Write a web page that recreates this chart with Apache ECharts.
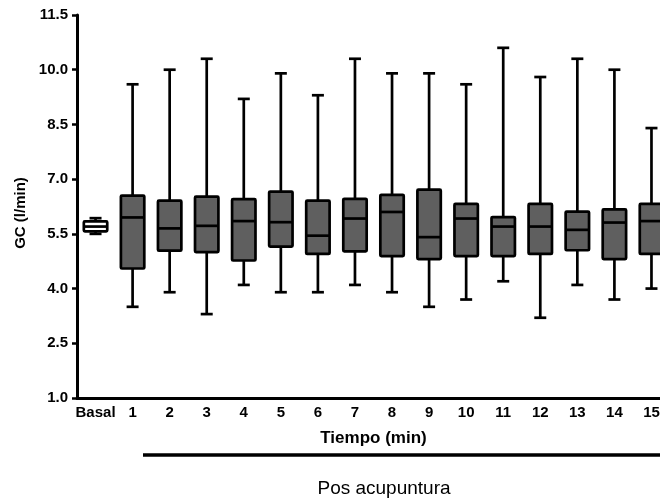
<!DOCTYPE html>
<html>
<head>
<meta charset="utf-8">
<script src="https://cdn.jsdelivr.net/npm/echarts@6/dist/echarts.min.js"></script>
<style>
  html, body { margin: 0; padding: 0; background: #fff; }
  #chart { width: 660px; height: 504px; }
</style>
</head>
<body>
<div id="chart"></div>
<script>
// categorías (Basal + minutos pos acupuntura)
const categories = ['Basal', '1', '2', '3', '4', '5', '6', '7', '8', '9', '10', '11', '12', '13', '14', '15'];

// valores (GC, l/min)
const mins    = [5.50, 3.5, 3.9, 3.3, 4.1, 3.9, 3.9, 4.1, 3.9, 3.5, 3.7, 4.2, 3.2, 4.1, 3.7, 4.0];
const q1s     = [5.57, 4.55, 5.04, 5.00, 4.77, 5.15, 4.95, 5.02, 4.89, 4.81, 4.89, 4.89, 4.95, 5.05, 4.81, 4.95];
const medians = [5.70, 5.95, 5.65, 5.72, 5.85, 5.82, 5.45, 5.92, 6.10, 5.41, 5.92, 5.70, 5.70, 5.61, 5.81, 5.85];
const q3s     = [5.84, 6.55, 6.41, 6.52, 6.45, 6.66, 6.41, 6.46, 6.57, 6.71, 6.32, 5.96, 6.32, 6.11, 6.17, 6.32];
const maxs    = [5.93, 9.6, 10.0, 10.3, 9.2, 9.9, 9.3, 10.3, 9.9, 9.9, 9.6, 10.6, 9.8, 10.3, 10.0, 8.4];

const yTicks = [1.0, 2.5, 4.0, 5.5, 7.0, 8.5, 10.0, 11.5];

const FONT = '"Liberation Sans", Arial, sans-serif';
const BOX_FILL = '#5f5f5f';
const LINE_W = 2.7;

const boxData = categories.map((c, i) => [i, mins[i], q1s[i], medians[i], q3s[i], maxs[i]]);

// dibuja una caja con bigotes (tapas más cortas que la caja)
function renderBox (params, api) {
  const i = api.value(0);
  const pMin = api.coord([i, api.value(1)]);
  const pQ1 = api.coord([i, api.value(2)]);
  const pMed = api.coord([i, api.value(3)]);
  const pQ3 = api.coord([i, api.value(4)]);
  const pMax = api.coord([i, api.value(5)]);
  const x = pMin[0];
  const hw = 11.7, cap = 6;
  const lineStyle = { stroke: '#000', lineWidth: LINE_W, fill: null };
  const fill = params.dataIndex === 0 ? '#fff' : BOX_FILL;
  return {
    type: 'group',
    children: [
      { type: 'line', shape: { x1: x, y1: pMax[1], x2: x, y2: pMin[1] }, style: lineStyle },
      { type: 'line', shape: { x1: x - cap, y1: pMax[1], x2: x + cap, y2: pMax[1] }, style: lineStyle },
      { type: 'line', shape: { x1: x - cap, y1: pMin[1], x2: x + cap, y2: pMin[1] }, style: lineStyle },
      {
        type: 'rect',
        shape: { x: x - hw, y: pQ3[1], width: hw * 2, height: pQ1[1] - pQ3[1], r: 1 },
        style: { fill: fill, stroke: '#000', lineWidth: LINE_W, lineJoin: 'round' }
      },
      { type: 'line', shape: { x1: x - hw, y1: pMed[1], x2: x + hw, y2: pMed[1] }, style: lineStyle }
    ]
  };
}

const chart = echarts.init(document.getElementById('chart'), null, { renderer: 'canvas' });

chart.setOption({
  backgroundColor: '#fff',
  animation: false,
  textStyle: { fontFamily: FONT },
  grid: { left: 77, top: 15, bottom: 106, width: 593, containLabel: false, outerBoundsMode: 'none' },
  xAxis: {
    type: 'category',
    data: categories,
    name: 'Tiempo (min)',
    nameLocation: 'middle',
    nameGap: 32,
    nameTextStyle: { color: '#000', fontWeight: 'bold', fontSize: 17, fontFamily: FONT },
    axisLine: { lineStyle: { color: '#000', width: 3 } },
    axisTick: { alignWithLabel: true, length: 5, lineStyle: { color: '#000', width: 2.5 } },
    axisLabel: { color: '#000', fontWeight: 'bold', fontSize: 15, margin: 7, fontFamily: FONT, interval: 0 },
    splitLine: { show: false }
  },
  yAxis: {
    type: 'value',
    min: 1,
    max: 11.5,
    name: 'GC (l/min)',
    nameLocation: 'middle',
    nameGap: 48,
    nameRotate: 90,
    nameTextStyle: { color: '#000', fontWeight: 'bold', fontSize: 15, fontFamily: FONT, padding: [0, 13, 0, 0] },
    axisLine: { show: true, lineStyle: { color: '#000', width: 3 } },
    axisTick: { show: true, length: 5, customValues: yTicks, lineStyle: { color: '#000', width: 2.5 } },
    axisLabel: {
      color: '#000', fontWeight: 'bold', fontSize: 15, margin: 9, fontFamily: FONT,
      customValues: yTicks,
      formatter: v => v.toFixed(1)
    },
    splitLine: { show: false }
  },
  series: [{
    type: 'custom',
    renderItem: renderBox,
    encode: { x: 0, y: [1, 2, 3, 4, 5] },
    data: boxData,
    clip: false
  }],
  graphic: [
    { type: 'line', shape: { x1: 143, y1: 455, x2: 660, y2: 455 }, style: { stroke: '#000', lineWidth: 3.3 } },
    {
      type: 'text', x: 384, y: 489,
      style: { text: 'Pos acupuntura', fill: '#000', font: '19px ' + FONT, textAlign: 'center', textVerticalAlign: 'middle' }
    }
  ]
});
</script>
</body>
</html>
